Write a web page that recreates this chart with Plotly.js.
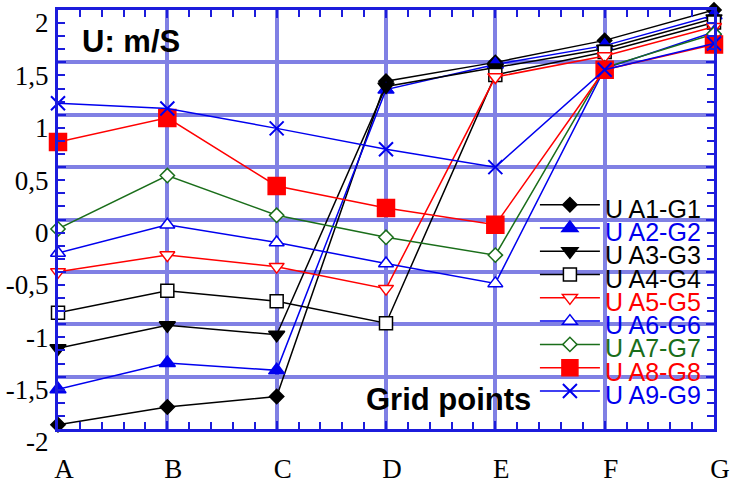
<!DOCTYPE html>
<html>
<head>
<meta charset="utf-8">
<script src="https://cdn.plot.ly/plotly-3.0.1.min.js"></script>
<style>html,body{margin:0;padding:0;background:#fff}#chart{width:732px;height:484px}</style>
</head>
<body>
<div id="chart"></div>
<script>
// ---- data ----
var categories = ['A', 'B', 'C', 'D', 'E', 'F', 'G'];
var seriesNames = ['U A1-G1', 'U A2-G2', 'U A3-G3', 'U A4-G4', 'U A5-G5', 'U A6-G6', 'U A7-G7', 'U A8-G8', 'U A9-G9'];
var uA1 = [-1.96, -1.79, -1.69, 1.32, 1.50, 1.71, 2.00];
var uA2 = [-1.62, -1.37, -1.44, 1.24, 1.48, 1.66, 1.95];
var uA3 = [-1.23, -1.01, -1.10, 1.27, 1.45, 1.63, 1.92];
var uA4 = [-0.89, -0.68, -0.78, -0.99, 1.38, 1.60, 1.88];
var uA5 = [-0.50, -0.34, -0.45, -0.66, 1.36, 1.56, 1.84];
var uA6 = [-0.32, -0.05, -0.22, -0.42, -0.61, 1.44, 1.79];
var uA7 = [-0.09, 0.42, 0.04, -0.17, -0.34, 1.45, 1.77];
var uA8 = [0.74, 0.97, 0.32, 0.11, -0.05, 1.43, 1.67];
var uA9 = [1.11, 1.06, 0.87, 0.67, 0.50, 1.43, 1.68];
var yTickVals = [2, 1.5, 1, 0.5, 0, -0.5, -1, -1.5, -2];
var yTickText = ['2', '1,5', '1', '0,5', '0', '-0,5', '-1', '-1,5', '-2'];

// ---- styles ----
var BLUE = '#0000ee', RED = '#ff0000', GREEN = '#1a6e1a', BLACK = '#000000';
var styles = [
  {color: BLACK, symbol: 'diamond', size: 11, fill: BLACK},
  {color: BLUE, symbol: 'triangle-up', size: 14, fill: BLUE},
  {color: BLACK, symbol: 'triangle-down', size: 14, fill: BLACK},
  {color: BLACK, symbol: 'square', size: 13, fill: '#ffffff'},
  {color: RED, symbol: 'triangle-down', size: 13, fill: '#ffffff'},
  {color: BLUE, symbol: 'triangle-up', size: 13, fill: '#ffffff'},
  {color: GREEN, symbol: 'diamond', size: 11, fill: '#ffffff'},
  {color: RED, symbol: 'square', size: 17, fill: RED},
  {color: BLUE, symbol: 'x-thin', size: 14, fill: BLUE}
];
var allSeries = [uA1, uA2, uA3, uA4, uA5, uA6, uA7, uA8, uA9];
var xIdx = categories.map(function (c, i) { return i; });

var traces = allSeries.map(function (vals, k) {
  var s = styles[k];
  return {
    type: 'scatter', mode: 'lines+markers',
    x: xIdx, y: vals,
    name: '<span style="font-size:25px;baseline-shift:-7px;color:' + s.color + '">' + seriesNames[k] + '</span>',
    line: {color: s.color, width: 1.5},
    marker: {symbol: s.symbol, size: s.size, color: s.fill,
             line: {color: s.color, width: s.symbol === 'x-thin' ? 2 : 1.5}},
    cliponaxis: false
  };
});

var GRID = 'rgb(128,128,228)';
var AXIS = '#1c1cdc';
var layout = {
  width: 732, height: 484,
  margin: {l: 58, r: 18, t: 10, b: 55, pad: 0},
  paper_bgcolor: '#ffffff', plot_bgcolor: '#ffffff',
  showlegend: true,
  legend: {
    x: 0.727, y: 0.575, xanchor: 'left', yanchor: 'top',
    bgcolor: 'rgba(0,0,0,0)', borderwidth: 0,
    font: {family: 'Liberation Sans, Arial, sans-serif', size: 15.6, color: '#000'},
    itemwidth: 60, tracegroupgap: 0
  },
  xaxis: {
    range: [0, 6], tickvals: xIdx, ticktext: categories,
    showgrid: true, gridcolor: GRID, gridwidth: 4,
    zeroline: false,
    showline: true, linecolor: AXIS, linewidth: 3, mirror: 'allticks',
    ticks: 'inside', ticklen: 8, tickwidth: 2, tickcolor: AXIS,
    tickfont: {family: 'Liberation Serif, Times New Roman, serif', size: 27, color: '#000'},
    ticklabelshift: 6, ticklabelstandoff: 14,
    minor: {dtick: 0.2, tick0: 0, ticks: 'inside', ticklen: 7, tickwidth: 2, tickcolor: AXIS, showgrid: false}
  },
  yaxis: {
    range: [-2, 2], tickvals: yTickVals, ticktext: yTickText,
    showgrid: true, gridcolor: GRID, gridwidth: 4,
    zeroline: false,
    showline: true, linecolor: AXIS, linewidth: 3, mirror: 'allticks',
    ticks: 'inside', ticklen: 8, tickwidth: 2, tickcolor: AXIS,
    tickfont: {family: 'Liberation Serif, Times New Roman, serif', size: 27, color: '#000'},
    ticklabelshift: 13, ticklabelstandoff: 1,
    minor: {dtick: 0.125, tick0: -2, ticks: 'inside', ticklen: 7, tickwidth: 2, tickcolor: AXIS, showgrid: false}
  },
  annotations: [
    {text: '<b>U: m/S</b>', xref: 'paper', yref: 'paper', x: 0.033, y: 0.924,
     xanchor: 'left', yanchor: 'middle', showarrow: false,
     font: {family: 'Liberation Sans, Arial, sans-serif', size: 31, color: '#000'}},
    {text: '<b>Grid points</b>', xref: 'paper', yref: 'paper', x: 0.466, y: 0.07,
     xanchor: 'left', yanchor: 'middle', showarrow: false,
     font: {family: 'Liberation Sans, Arial, sans-serif', size: 31, color: '#000'}}
  ]
};

Plotly.newPlot('chart', traces, layout, {displayModeBar: false, staticPlot: true});
</script>
</body>
</html>
